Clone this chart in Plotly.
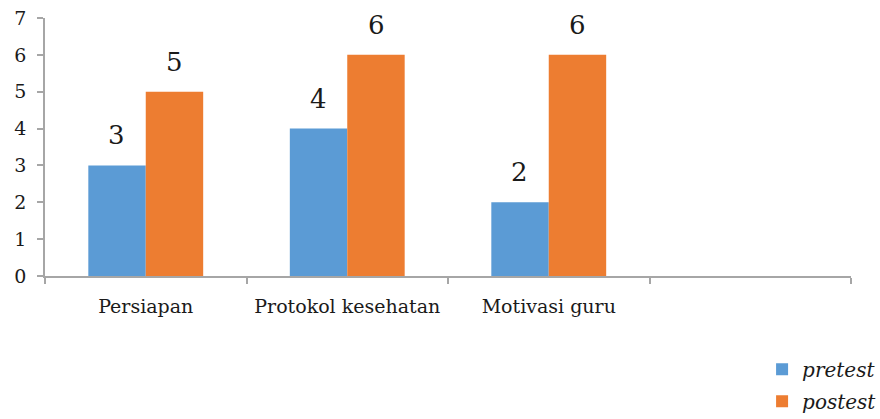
import plotly.graph_objects as go

categories = ["Persiapan", "Protokol kesehatan", "Motivasi guru", " "]
pretest = [3, 4, 2, None]
postest = [5, 6, 6, None]
series_names = ["pretest", "postest"]
colors = ["#5B9BD5", "#ED7D31"]
y_ticks = [0, 1, 2, 3, 4, 5, 6, 7]

FONT = "DejaVu Serif, Liberation Serif, serif"

fig = go.Figure()
for i, (name, vals) in enumerate(zip(series_names, [pretest, postest])):
    fig.add_trace(go.Bar(
        x=categories, y=vals, name=name,
        marker=dict(color=colors[i], line=dict(width=0)),
        legendgroup=name,
    ))

# value labels
for i, vals in enumerate([pretest, postest]):
    for c, v in zip(categories, vals):
        if v is None:
            continue
        fig.add_annotation(
            x=c, y=v, text=str(v), showarrow=False,
            xshift=(-29 if i == 0 else 29), yshift=13,
            yanchor="bottom", xanchor="center",
            font=dict(family=FONT, size=26, color="#1a1a1a"),
        )

fig.update_layout(
    width=880, height=419,
    margin=dict(l=45, r=29, t=18, b=143, autoexpand=False),
    plot_bgcolor="white", paper_bgcolor="white",
    barmode="group", bargap=0.43, bargroupgap=0,
    font=dict(family=FONT, color="#1a1a1a"),
    legend=dict(
        xref="container", yref="container",
        x=0.866, y=0.165, xanchor="left", yanchor="top",
        font=dict(family=FONT, size=20, style="italic", color="#1a1a1a"),
        tracegroupgap=3, bgcolor="rgba(0,0,0,0)",
    ),
    showlegend=True,
)
fig.update_xaxes(
    type="category", categoryarray=categories, categoryorder="array",
    range=[-0.5, 3.5],
    showline=True, linecolor="#A6A6A6", linewidth=1.5,
    ticks="outside", tickson="boundaries", ticklen=6, tickcolor="#A6A6A6", tickwidth=1.5,
    tickfont=dict(family=FONT, size=19, color="#1a1a1a"),
    ticklabelstandoff=12,
    showgrid=False, zeroline=False,
)
fig.update_yaxes(
    range=[0, 7], tickvals=y_ticks,
    showline=True, linecolor="#A6A6A6", linewidth=1.5,
    ticks="outside", ticklen=6, tickcolor="#A6A6A6", tickwidth=1.5,
    tickfont=dict(family=FONT, size=19, color="#1a1a1a"),
    ticklabelstandoff=7,
    showgrid=False, zeroline=False,
)

fig.write_html("out.html")
